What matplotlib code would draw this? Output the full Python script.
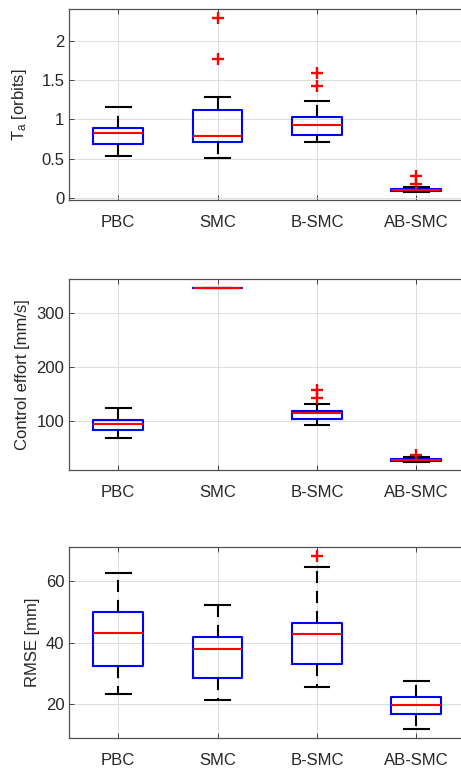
import matplotlib
matplotlib.use('Agg')
import matplotlib.pyplot as plt

plt.rcParams['font.family'] = ['Liberation Sans', 'DejaVu Sans']
plt.rcParams['mathtext.fontset'] = 'custom'
plt.rcParams['mathtext.rm'] = 'Liberation Sans'
plt.rcParams['mathtext.it'] = 'Liberation Sans'

methods = ['PBC', 'SMC', 'B-SMC', 'AB-SMC']

# settling time T_a [orbits]
ta_whislo = [0.541, 0.508, 0.719, 0.076]
ta_q1 = [0.689, 0.715, 0.808, 0.093]
ta_med = [0.829, 0.791, 0.930, 0.105]
ta_q3 = [0.896, 1.121, 1.036, 0.118]
ta_whishi = [1.162, 1.289, 1.235, 0.147]
ta_fliers = [[], [2.284, 1.764], [1.586, 1.425], [0.287, 0.178]]

# control effort [mm/s]
ce_whislo = [68.5, 347.0, 92.0, 23.5]
ce_q1 = [82.8, 347.0, 103.7, 26.0]
ce_med = [95.1, 347.0, 114.8, 27.8]
ce_q3 = [101.3, 347.0, 119.2, 29.7]
ce_whishi = [124.1, 347.0, 132.1, 32.2]
ce_fliers = [[], [], [156.8, 142.6], [36.5]]

# RMSE [mm]
rm_whislo = [23.3, 21.3, 25.5, 11.9]
rm_q1 = [32.6, 28.7, 33.0, 16.7]
rm_med = [43.3, 37.9, 42.9, 19.9]
rm_q3 = [49.9, 41.9, 46.3, 22.3]
rm_whishi = [62.6, 52.2, 64.7, 27.6]
rm_fliers = [[], [], [68.3], []]

panels = [
    (ta_whislo, ta_q1, ta_med, ta_q3, ta_whishi, ta_fliers,
     r'T$_{\rm a}$ [orbits]', (-0.02, 2.40), [0, 0.5, 1, 1.5, 2], ['0', '0.5', '1', '1.5', '2'], 9),
    (ce_whislo, ce_q1, ce_med, ce_q3, ce_whishi, ce_fliers,
     'Control effort [mm/s]', (8.7, 363.7), [100, 200, 300], ['100', '200', '300'], 5),
    (rm_whislo, rm_q1, rm_med, rm_q3, rm_whishi, rm_fliers,
     'RMSE [mm]', (8.94, 71.25), [20, 40, 60], ['20', '40', '60'], 4),
]

W, H = 461, 768
fig = plt.figure(figsize=(W / 100, H / 100), dpi=100)

# axes boxes in pixels (left, right, top, bottom)
boxes = [(68.5, 466, 9, 200), (68.5, 466, 279, 470), (68.5, 466, 546.7, 738.3)]

txt = '#262626'
lw = 1.5

for (lo, q1, med, q3, hi, fl, ylabel, ylim, yt, ytl, lpad), (l, r, t, b) in zip(panels, boxes):
    ax = fig.add_axes([l / W, 1 - b / H, (r - l) / W, (b - t) / H])
    stats = []
    for i, name in enumerate(methods):
        stats.append({'label': name, 'whislo': lo[i], 'q1': q1[i], 'med': med[i],
                      'q3': q3[i], 'whishi': hi[i], 'fliers': fl[i]})
    ax.bxp(stats, positions=[1, 2, 3, 4], widths=0.5, showfliers=True,
           boxprops=dict(color='#0000ff', linewidth=lw),
           medianprops=dict(color='#ff0000', linewidth=lw),
           whiskerprops=dict(color='black', linewidth=lw, linestyle=(0, (5.8, 3.8))),
           capprops=dict(color='black', linewidth=lw),
           capwidths=0.25,
           flierprops=dict(marker='+', markeredgecolor='#ff0000', markersize=8,
                           markeredgewidth=1.7, linestyle='none'))
    ax.set_xlim(0.5, 4.5)
    ax.set_ylim(*ylim)
    ax.set_yticks(yt)
    ax.set_yticklabels(ytl)
    ax.set_xticks([1, 2, 3, 4])
    ax.set_xticklabels(methods)
    ax.set_ylabel(ylabel, fontsize=12, color=txt, labelpad=lpad)
    ax.grid(True, color='#dcdcdc', linewidth=0.7)
    ax.set_axisbelow(True)
    ax.tick_params(direction='in', length=3.5, width=0.7, top=True, right=True,
                   colors='#404040', labelcolor=txt, labelsize=12)
    ax.tick_params(axis='x', pad=10.5)
    ax.tick_params(axis='y', pad=3)
    for s in ax.spines.values():
        s.set_color('#505050')
        s.set_linewidth(0.9)

fig.savefig('out.png', dpi=100)
